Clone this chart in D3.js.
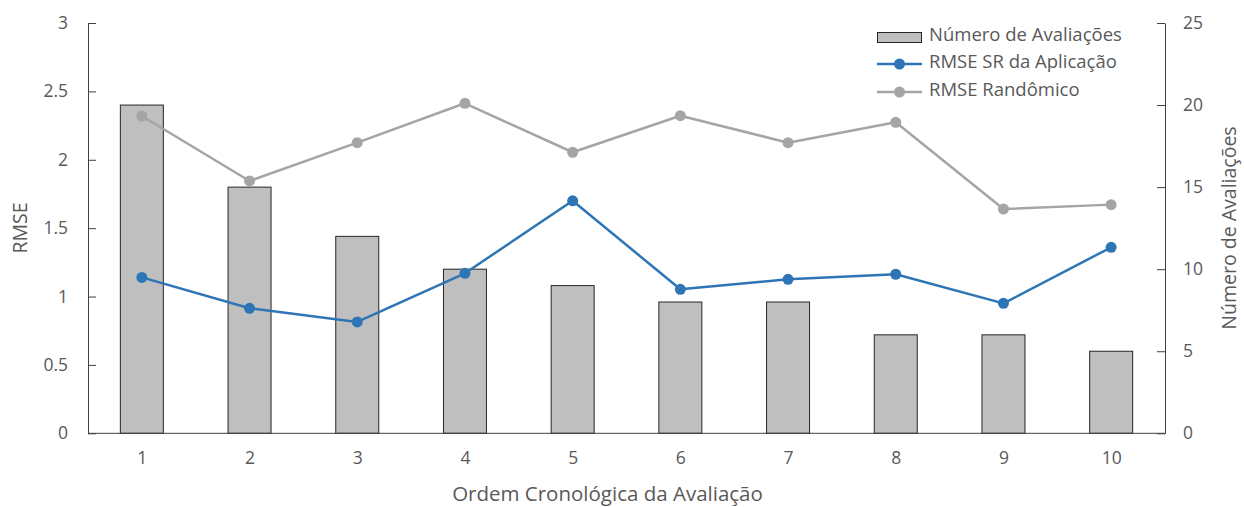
<!DOCTYPE html>
<html>
<head>
<meta charset="utf-8">
<script src="https://cdn.jsdelivr.net/npm/d3@7"></script>
<style>
  html, body { margin: 0; padding: 0; background: #fff; }
  svg text { font-family: "Open Sans", "Noto Sans", sans-serif; fill: #595959; }
</style>
</head>
<body>
<svg id="chart" width="1244" height="507"></svg>
<script>
// Categories (chronological order of the evaluation)
const categories = ["1", "2", "3", "4", "5", "6", "7", "8", "9", "10"];
// Number of evaluations (bars, right axis)
const evaluationCounts = [20, 15, 12, 10, 9, 8, 8, 6, 6, 5];
// RMSE of the application's recommender (blue line, left axis)
const rmseApp = [1.14, 0.914, 0.814, 1.17, 1.70, 1.053, 1.126, 1.163, 0.95, 1.36];
// RMSE of random predictions (gray line, left axis)
const rmseRandom = [2.32, 1.845, 2.125, 2.413, 2.055, 2.322, 2.125, 2.274, 1.64, 1.672];
// Tick labels
const leftTicks = [0, 0.5, 1, 1.5, 2, 2.5, 3];
const rightTicks = [0, 5, 10, 15, 20, 25];

const svg = d3.select("#chart");
const margin = { left: 88, right: 79, top: 23, bottom: 74 };
const W = 1244, H = 507;
const x0 = margin.left, x1 = W - margin.right;
const y0 = H - margin.bottom, y1 = margin.top;

const xc = d3.scalePoint().domain(categories).range([x0, x1]).padding(0.5);
const yL = d3.scaleLinear().domain([0, 3]).range([y0 + 0.3, y1]);
const yR = d3.scaleLinear().domain([0, 25]).range([y0 + 0.3, y1]);

const axisColor = "#404040";
const tickFont = "17.5px";
const titleFont = "19.5px";
const legendFont = "18.5px";

// Bars
svg.append("g").selectAll("rect").data(evaluationCounts).join("rect")
  .attr("x", (d, i) => xc(categories[i]) - 21.5)
  .attr("width", 43)
  .attr("y", d => yR(d))
  .attr("height", d => yR(0) - yR(d))
  .attr("fill", "#BFBFBF")
  .attr("stroke", "#262626")
  .attr("stroke-width", 1);

// Left axis
const gL = svg.append("g").attr("transform", `translate(${x0},0)`)
  .call(d3.axisLeft(yL).tickValues(leftTicks).tickSizeInner(-8).tickSizeOuter(0).tickPadding(20).tickFormat(d3.format("~g")));
gL.select(".domain").attr("stroke", axisColor);
gL.selectAll(".tick line").attr("stroke", axisColor);
gL.selectAll("text").style("font-size", tickFont).style("fill", "#595959").attr("font-family", null);

// Right axis
const gR = svg.append("g").attr("transform", `translate(${x1},0)`)
  .call(d3.axisRight(yR).tickValues(rightTicks).tickSizeInner(-8).tickSizeOuter(0).tickPadding(18));
gR.select(".domain").attr("stroke", axisColor);
gR.selectAll(".tick line").attr("stroke", axisColor);
gR.selectAll("text").style("font-size", tickFont).style("fill", "#595959").attr("font-family", null);

// Bottom axis line and category labels
const gB = svg.append("g").attr("transform", `translate(0,${y0 + 0.3})`)
  .call(d3.axisBottom(xc).tickSize(0).tickPadding(18));
gB.select(".domain").attr("stroke", axisColor).attr("d", `M${x0},0H${x1}`);
gB.selectAll("text").style("font-size", tickFont).style("fill", "#595959").attr("font-family", null);

// Lines
const line = d3.line().x((d, i) => xc(categories[i])).y(d => yL(d));
function drawSeries(values, color) {
  svg.append("path").datum(values)
    .attr("d", line).attr("fill", "none")
    .attr("stroke", color).attr("stroke-width", 2.5).attr("stroke-linejoin", "round");
  svg.append("g").selectAll("circle").data(values).join("circle")
    .attr("cx", (d, i) => xc(categories[i])).attr("cy", d => yL(d))
    .attr("r", 5.5).attr("fill", color);
}
drawSeries(rmseRandom, "#A5A5A5");
drawSeries(rmseApp, "#2E75B6");

// Axis titles
svg.append("text").attr("transform", `translate(27,${(y0 + y1) / 2}) rotate(-90)`)
  .attr("text-anchor", "middle").style("font-size", titleFont).text("RMSE");
svg.append("text").attr("transform", `translate(1236,${(y0 + y1) / 2}) rotate(-90)`)
  .attr("text-anchor", "middle").style("font-size", titleFont).text("Número de Avaliações");
svg.append("text").attr("x", (x0 + x1) / 2 - 19).attr("y", 501)
  .attr("text-anchor", "middle").style("font-size", "20.5px").text("Ordem Cronológica da Avaliação");

// Legend
const legend = svg.append("g");
const lgX = 877, lgW = 45, lgText = 929;
legend.append("rect").attr("x", lgX + 0.5).attr("y", 32.5).attr("width", lgW - 1).attr("height", 10)
  .attr("fill", "#BFBFBF").attr("stroke", "#262626").attr("stroke-width", 1);
legend.append("text").attr("x", lgText).attr("y", 36).attr("dominant-baseline", "middle")
  .style("font-size", legendFont).text("Número de Avaliações");
[["RMSE SR da Aplicação", "#2E75B6", 64], ["RMSE Randômico", "#A5A5A5", 92]].forEach(([label, color, yy]) => {
  legend.append("line").attr("x1", lgX).attr("x2", lgX + lgW).attr("y1", yy).attr("y2", yy)
    .attr("stroke", color).attr("stroke-width", 2.5);
  legend.append("circle").attr("cx", lgX + lgW / 2).attr("cy", yy).attr("r", 5.5).attr("fill", color);
  legend.append("text").attr("x", lgText).attr("y", yy - 1).attr("dominant-baseline", "middle")
    .style("font-size", legendFont).text(label);
});
</script>
</body>
</html>
